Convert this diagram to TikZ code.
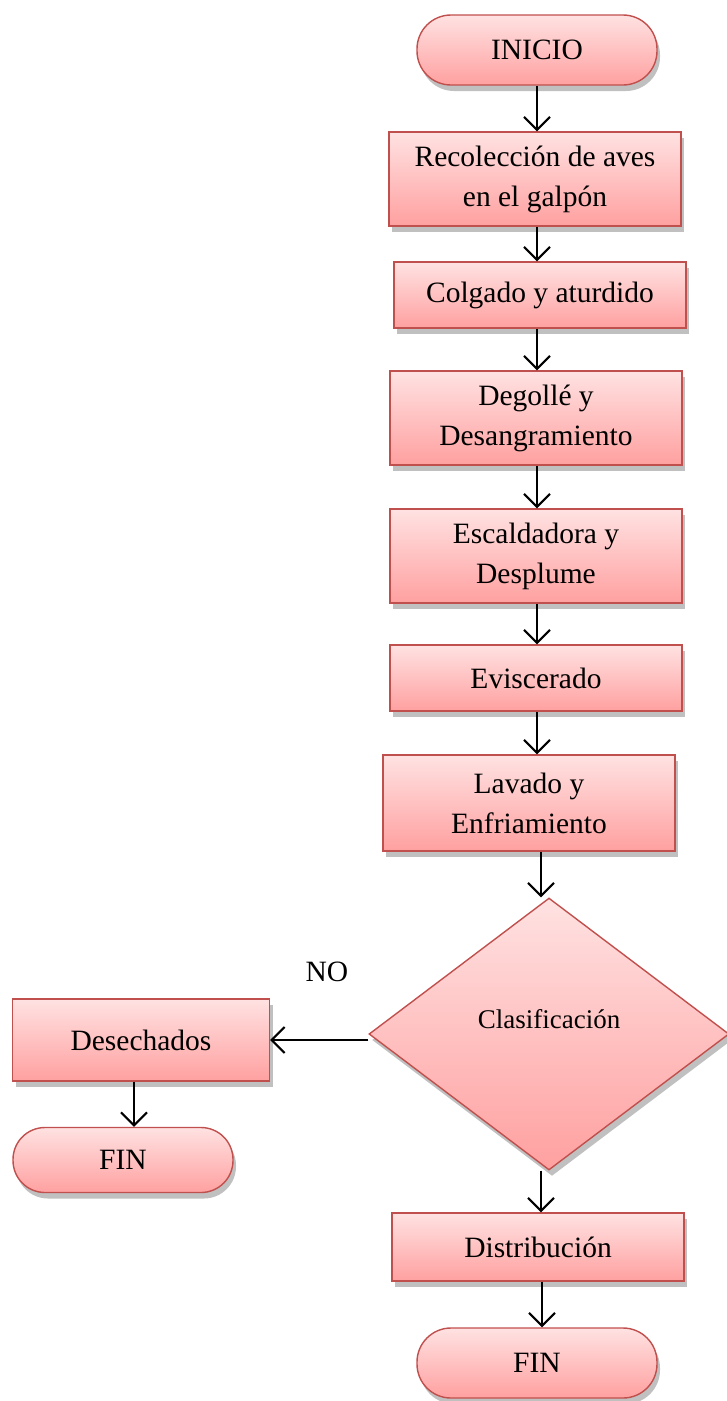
\documentclass[tikz,border=0pt]{standalone}
\usepackage{fontspec}
\setmainfont{Liberation Serif}
\usetikzlibrary{shapes.geometric,shadows,arrows.meta}
\definecolor{boxtop}{RGB}{255,226,226}
\definecolor{boxbot}{RGB}{255,160,160}
\definecolor{boxedge}{RGB}{192,80,77}
\tikzset{
  flowshape/.style={draw=boxedge, line width=1.4pt, top color=boxtop, bottom color=boxbot,
    drop shadow={opacity=0.45, fill=black!55, shadow xshift=3pt, shadow yshift=-6pt},
    inner sep=0pt, align=center, font=\fontsize{29.5}{40}\selectfont},
  procbox/.style={flowshape, rectangle, minimum width=292pt, minimum height=94pt},
  thinbox/.style={flowshape, rectangle, minimum width=292pt, minimum height=66pt},
  terminal/.style={flowshape, rectangle, rounded corners=34pt, minimum width=240pt, minimum height=70pt},
  decision/.style={flowshape, diamond, minimum width=360pt, minimum height=272pt},
  flow/.style={-{Straight Barb[length=13pt,width=26pt,line width=2pt]}, line width=2pt, black},
  plain/.style={font=\fontsize{29.5}{40}\selectfont}
}
\begin{document}
\begin{tikzpicture}[x=1pt,y=-1pt]
\useasboundingbox (0,0) rectangle (726,1401);

% main column
\node[terminal] (inicio) at (537,50) {INICIO};
\node[procbox] (reco) at (535,179) {Recolección de aves\\en el galpón};
\node[thinbox] (colg) at (540,295) {Colgado y aturdido};
\node[procbox] (dego) at (536,418) {Degollé y\\Desangramiento};
\node[procbox] (esca) at (536,556) {Escaldadora y\\Desplume};
\node[thinbox] (evis) at (536,678) {Eviscerado};
\node[procbox, minimum height=96pt] (lava) at (529,803) {Lavado y\\Enfriamiento};
\node[decision] (clas) at (549,1034) {};
\node[font=\fontsize{27}{32}\selectfont] (clastxt) at (549,1019) {Clasificación};
\node[thinbox, minimum height=68pt] (dist) at (538,1247) {Distribución};
\node[terminal] (fin) at (537,1363) {FIN};

% rejected branch
\node[procbox, minimum width=257pt, minimum height=82pt] (dese) at (141,1040) {Desechados};
\node[terminal, minimum width=220pt, minimum height=65pt, rounded corners=32pt] (fin2) at (123,1160) {FIN};
\node[plain] (no) at (327,972) {NO};

% connectors
\draw[flow] ([xshift=0pt]inicio.south) -- ([xshift=0pt]inicio.south |- reco.north);
\draw[flow] ([xshift=2pt]reco.south) -- ([xshift=2pt]reco.south |- colg.north);
\draw[flow] ([xshift=-3pt]colg.south) -- ([xshift=-3pt]colg.south |- dego.north);
\draw[flow] ([xshift=1pt]dego.south) -- ([xshift=1pt]dego.south |- esca.north);
\draw[flow] ([xshift=1pt]esca.south) -- ([xshift=1pt]esca.south |- evis.north);
\draw[flow] ([xshift=1pt]evis.south) -- ([xshift=1pt]evis.south |- lava.north);
\draw[flow] ([xshift=12pt]lava.south) -- ([xshift=12pt]lava.south |- clas.north);
\draw[flow] ([xshift=-8pt]clas.south) -- ([xshift=-8pt]clas.south |- dist.north);
\draw[flow] ([xshift=4pt]dist.south) -- ([xshift=4pt]dist.south |- fin.north);
\draw[flow] (clas.west) ++(0,6) coordinate (b0) -- (b0 -| dese.east);
\draw[flow] ([xshift=-7pt]dese.south) -- ([xshift=-7pt]dese.south |- fin2.north);
\end{tikzpicture}
\end{document}
